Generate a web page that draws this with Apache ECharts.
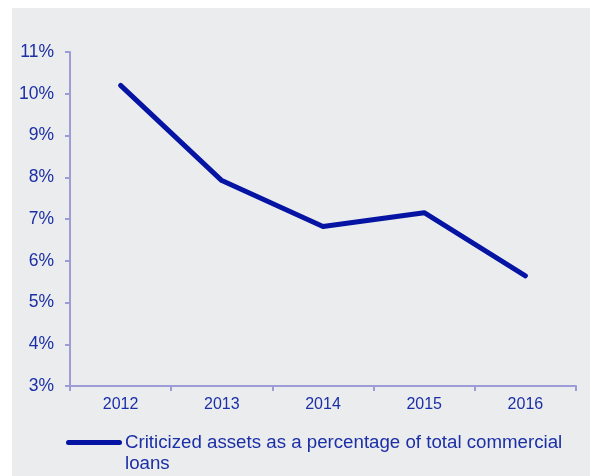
<!DOCTYPE html>
<html>
<head>
<meta charset="utf-8">
<style>
  html, body { margin: 0; padding: 0; background: #ffffff; }
  #chart { position: absolute; left: 12px; top: 8px; width: 578px; height: 468px; background: #ebeced; }
</style>
<script src="https://cdn.jsdelivr.net/npm/echarts@6/dist/echarts.min.js"></script>
</head>
<body>
<div id="chart"></div>
<script>
// Criticized assets ratio by year
const years = ['2012', '2013', '2014', '2015', '2016'];
const criticizedPct = [10.2, 7.92, 6.82, 7.15, 5.64];
const seriesName = 'Criticized assets as a percentage of total commercial loans';

const textBlue = '#1b2fa6';
const lineBlue = '#0514a3';
const axisLavender = '#9c9cd6';
const font = '"Liberation Sans", Arial, sans-serif';

// Legend swatch: a round-capped bar at the top of a 56x26 box, so it sits
// level with the first line of the wrapped legend text.
const legendSwatch = 'path://M2.5,0 L53.5,0 A2.5,2.5,0,0,1,53.5,5 L2.5,5 A2.5,2.5,0,0,1,2.5,0 Z M0,26';

const chart = echarts.init(document.getElementById('chart'), null, { renderer: 'canvas' });
chart.setOption({
  animation: false,
  backgroundColor: '#ebeced',
  textStyle: { fontFamily: font },
  grid: { left: 58, right: 14, top: 44, bottom: 90, containLabel: false },
  legend: {
    left: 49,
    top: 419,
    itemGap: 0,
    itemWidth: 56,
    itemHeight: 26,
    icon: legendSwatch,
    data: [seriesName],
    textStyle: {
      color: textBlue,
      fontSize: 18.7,
      fontFamily: font,
      width: 462,
      overflow: 'break',
      lineHeight: 21,
      padding: [0, 0, 0, -2]
    }
  },
  xAxis: {
    type: 'category',
    data: years,
    boundaryGap: true,
    axisLine: { lineStyle: { color: axisLavender, width: 2 } },
    axisTick: { show: true, inside: false, length: 5, alignWithLabel: false, lineStyle: { color: axisLavender, width: 2 } },
    axisLabel: { color: textBlue, fontSize: 16, fontFamily: font, margin: 11 },
    splitLine: { show: false }
  },
  yAxis: {
    type: 'value',
    min: 3,
    max: 11,
    interval: 1,
    axisLine: { show: true, lineStyle: { color: axisLavender, width: 2 } },
    axisTick: { show: true, inside: false, length: 5, lineStyle: { color: axisLavender, width: 2 } },
    axisLabel: { color: textBlue, fontSize: 17.5, fontFamily: font, margin: 16, formatter: '{value}%' },
    splitLine: { show: false }
  },
  series: [{
    name: seriesName,
    type: 'line',
    data: criticizedPct,
    symbol: 'none',
    lineStyle: { color: lineBlue, width: 5, cap: 'round', join: 'round' },
    itemStyle: { color: lineBlue }
  }]
});
</script>
</body>
</html>
